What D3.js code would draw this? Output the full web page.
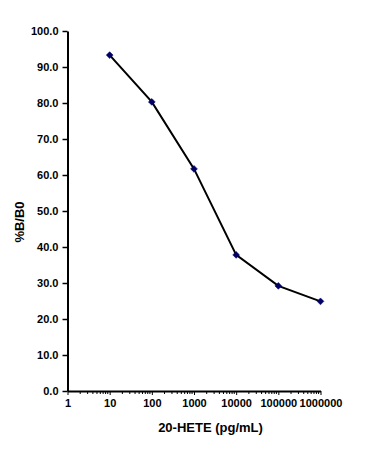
<!DOCTYPE html>
<html><head><meta charset="utf-8">
<script src="https://cdn.jsdelivr.net/npm/d3@7"></script>
<style>
body{margin:0;background:#fff;}
text{font-family:"Liberation Sans",Arial,sans-serif;font-weight:bold;}
</style></head>
<body><svg id="c" width="368" height="453"></svg>
<script>
const concentrations = [10, 100, 1000, 10000, 100000, 1000000];
const bb0 = [93.3, 80.3, 61.7, 37.8, 29.2, 24.9];
const xTickLabels = ["1","10","100","1000","10000","100000","1000000"];
const yTicks = [0,10,20,30,40,50,60,70,80,90,100];
const xTitle = "20-HETE (pg/mL)";
const yTitle = "%B/B0";

const svg = d3.select("#c");
const x = d3.scaleLog().domain([1,1e6]).range([67.5,320.5]);
const y = d3.scaleLinear().domain([0,100]).range([391,31]);

// minor x ticks
const minor = [];
for (let e=0;e<6;e++) for (let m=2;m<=9;m++) minor.push(m*Math.pow(10,e));
svg.append("g").selectAll("line").data(minor).join("line")
  .attr("x1",d=>x(d)).attr("x2",d=>x(d)).attr("y1",y(0)).attr("y2",y(0)+3)
  .attr("stroke","#000").attr("stroke-width",1);

// x axis
const xVals = xTickLabels.map(Number);
const xg = svg.append("g").attr("transform",`translate(0,${y(0)})`)
  .call(d3.axisBottom(x).tickValues(xVals).tickFormat((d,i)=>xTickLabels[i]).tickSize(4).tickSizeOuter(0));
xg.select(".domain").attr("stroke-width",2);
xg.selectAll(".tick line").attr("stroke-width",1);
xg.selectAll("text").attr("font-size",11).attr("fill","#000").attr("dy","0.71em").attr("y",8);

// y axis
const yg = svg.append("g").attr("transform",`translate(${x(1)},0)`)
  .call(d3.axisLeft(y).tickValues(yTicks).tickFormat(d3.format(".1f")).tickSize(5).tickSizeOuter(0));
yg.select(".domain").attr("stroke-width",2);
yg.selectAll(".tick line").attr("stroke-width",1.5);
yg.selectAll("text").attr("font-size",11).attr("fill","#000").attr("x",-9);

// line
const data = concentrations.map((c,i)=>({c,v:bb0[i]}));
svg.append("path").datum(data)
  .attr("d",d3.line().x(d=>x(d.c)).y(d=>y(d.v)))
  .attr("fill","none").attr("stroke","#000").attr("stroke-width",2);

// markers
svg.append("g").selectAll("path").data(data).join("path")
  .attr("d",d3.symbol().type(d3.symbolDiamond2).size(30))
  .attr("transform",d=>`translate(${x(d.c)},${y(d.v)})`)
  .attr("fill","#000066").attr("stroke","#000066").attr("stroke-width",0.5);

// titles
svg.append("text").attr("x",210.5).attr("y",432).attr("text-anchor","middle")
  .attr("font-size",13).text(xTitle);
svg.append("text").attr("transform","translate(24,222) rotate(-90)")
  .attr("text-anchor","middle").attr("font-size",13).text(yTitle);
</script></body></html>
